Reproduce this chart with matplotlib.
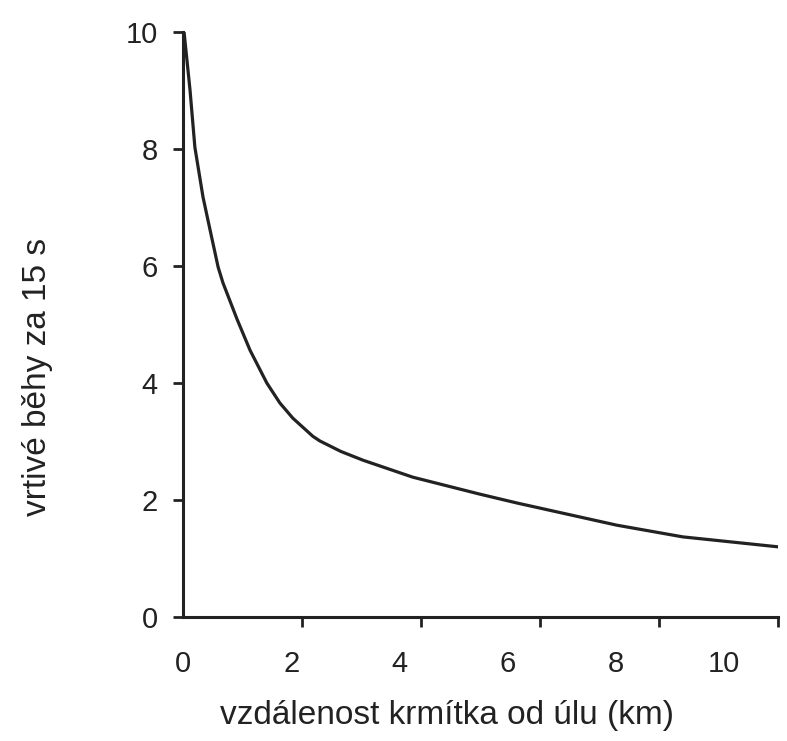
import numpy as np
import matplotlib.pyplot as plt

# vzdalenost (km) a pocet vrtivych behu za 15 s
distance_km = [0.02, 0.13, 0.22, 0.37, 0.50, 0.65, 0.74, 1.00, 1.24, 1.55,
               1.79, 2.03, 2.40, 2.53, 2.92, 3.33, 4.25, 5.49, 6.17, 8.02,
               9.24, 11.0]
runs = [10.0, 9.01, 8.03, 7.18, 6.62, 5.98, 5.71, 5.09, 4.56, 4.00,
        3.66, 3.40, 3.09, 3.01, 2.83, 2.68, 2.39, 2.10, 1.95, 1.57,
        1.37, 1.20]

x_labels = [0, 2, 4, 6, 8, 10]
y_ticks = [0, 2, 4, 6, 8, 10]

plt.rcParams["font.family"] = "Liberation Sans"
plt.rcParams["font.size"] = 21

ink = "#222222"

fig = plt.figure(figsize=(7.87, 7.41), dpi=100)
ax = fig.add_axes([0.2325, 0.1673, 0.7561, 0.7895])

ax.plot(distance_km, runs, color=ink, lw=2.3, solid_joinstyle="round")

ax.set_xlim(0, 11)
ax.set_ylim(0, 10)

for side in ["top", "right"]:
    ax.spines[side].set_visible(False)
for side in ["left", "bottom"]:
    ax.spines[side].set_linewidth(2.2)
    ax.spines[side].set_color(ink)

# cisla na ose x nesedi se znackami (jako v puvodnim obrazku)
ax.set_xticks(x_labels)
ax.set_xticks(np.linspace(0, 11, 6), minor=True)
ax.tick_params(axis="x", which="major", length=0, pad=24, labelcolor=ink)
ax.tick_params(axis="x", which="minor", length=7, width=2, color=ink, direction="out")

ax.set_yticks(y_ticks)
ax.tick_params(axis="y", length=7, width=2, color=ink, pad=11, labelcolor=ink)

ax.set_xlabel("vzdálenost krmítka od úlu (km)", color=ink, fontsize=24)
ax.set_ylabel("vrtivé běhy za 15 s", color=ink, fontsize=24)
ax.xaxis.set_label_coords(0.444, -0.142)
ax.yaxis.set_label_coords(-0.218, 0.411)

fig.savefig("out.png", dpi=100, facecolor="white")
